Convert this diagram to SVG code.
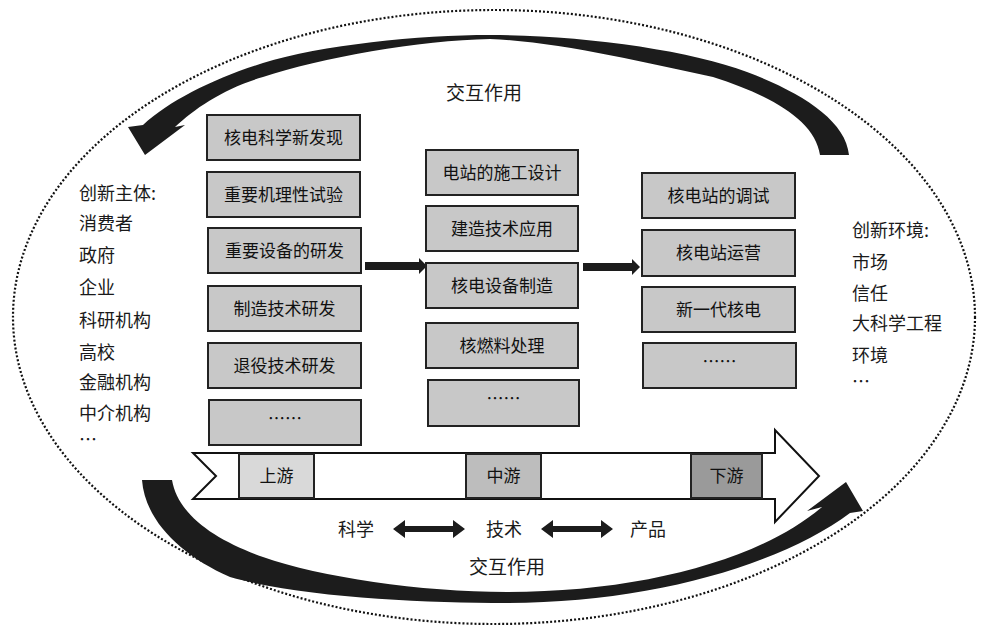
<svg xmlns="http://www.w3.org/2000/svg" width="981" height="627" viewBox="0 0 981 627">
<style>
.t{font-family:"Noto Sans CJK SC","Noto Sans",sans-serif;font-size:18px;fill:#1a1a1a}
.bt{font-family:"Noto Sans CJK SC","Noto Sans",sans-serif;font-size:17px;fill:#111;text-anchor:middle}
.lb{font-family:"Noto Sans CJK SC","Noto Sans",sans-serif;font-size:19px;fill:#1a1a1a;text-anchor:middle}
.box{fill:#c8c8c8;stroke:#222;stroke-width:2}
.ck{fill:#1c1c1c}
</style>
<rect width="981" height="627" fill="#fff"/>
<ellipse cx="494" cy="317" rx="481" ry="307" fill="none" stroke="#111" stroke-width="2.2" stroke-dasharray="2 2"/>
<g id="connectors">
<path class="ck" d="M849 155 C846 120 800 92 747 72 C690 50 580 35 490 35 C420 35 320 45 263 63 C215 78 170 100 143 125 L128 127 L145 155 L185 125 L175 127 C195 108 225 88 263 77 C320 58 420 40 490 39 C560 42 640 62 713 77 C770 95 815 120 820 155 Z"/>
<path class="ck" d="M142 480 C145 520 180 555 230 577 C300 597 420 603 507 603 C650 603 780 565 850 513 L863 511 L846 482 L807 511 L822 507 C760 560 640 592 507 592 C420 592 320 577 263 557 C215 540 178 515 172 480 Z"/>
<path fill="#fff" stroke="#111" stroke-width="2" d="M193 453 L775 453 L775 430 L819 476 L775 522 L775 499 L193 499 L216 476 Z"/>
<path class="ck" d="M365 262 L419 262 L419 258 L427 266 L419 274 L419 270 L365 270 Z"/>
<path class="ck" d="M583 263 L632 263 L632 259 L640 267 L632 275 L632 271 L583 271 Z"/>
<path class="ck" d="M393 529 L405 520 L405 526 L453 526 L453 520 L465 529 L453 538 L453 532 L405 532 L405 538 Z"/>
<path class="ck" d="M541 529 L553 520 L553 526 L601 526 L601 520 L613 529 L601 538 L601 532 L553 532 L553 538 Z"/>
</g>
<g id="stages">
<rect x="239" y="454" width="75" height="44" fill="#d9d9d9" stroke="#222" stroke-width="2"/>
<text class="bt" x="276.5" y="482">上游</text>
<rect x="466" y="454" width="75" height="44" fill="#bdbdbd" stroke="#222" stroke-width="2"/>
<text class="bt" x="503.5" y="482">中游</text>
<rect x="691" y="454" width="71" height="44" fill="#9a9a9a" stroke="#222" stroke-width="2"/>
<text class="bt" x="726.5" y="482">下游</text>
</g>
<g id="col1">
<rect class="box" x="207" y="115" width="153" height="45"/><text class="bt" x="283.5" y="144">核电科学新发现</text>
<rect class="box" x="207" y="172" width="153" height="45"/><text class="bt" x="283.5" y="201">重要机理性试验</text>
<rect class="box" x="208" y="228" width="153" height="45"/><text class="bt" x="284.5" y="257">重要设备的研发</text>
<rect class="box" x="208" y="286" width="153" height="45"/><text class="bt" x="284.5" y="315">制造技术研发</text>
<rect class="box" x="208" y="343" width="153" height="45"/><text class="bt" x="284.5" y="372">退役技术研发</text>
<rect class="box" x="209" y="400" width="152" height="45"/><text class="bt" x="285" y="425">……</text>
</g>
<g id="col2">
<rect class="box" x="426" y="150" width="152" height="45"/><text class="bt" x="502" y="179">电站的施工设计</text>
<rect class="box" x="426" y="206" width="152" height="45"/><text class="bt" x="502" y="235">建造技术应用</text>
<rect class="box" x="426" y="263" width="152" height="45"/><text class="bt" x="502" y="292">核电设备制造</text>
<rect class="box" x="426" y="323" width="152" height="45"/><text class="bt" x="502" y="352">核燃料处理</text>
<rect class="box" x="428" y="380" width="151" height="46"/><text class="bt" x="503.5" y="405">……</text>
</g>
<g id="col3">
<rect class="box" x="642" y="173" width="153" height="45"/><text class="bt" x="718.5" y="202">核电站的调试</text>
<rect class="box" x="642" y="230" width="153" height="46"/><text class="bt" x="718.5" y="259">核电站运营</text>
<rect class="box" x="642" y="287" width="153" height="45"/><text class="bt" x="718.5" y="316">新一代核电</text>
<rect class="box" x="643" y="343" width="153" height="45"/><text class="bt" x="719.5" y="368">……</text>
</g>
<g id="subjects">
<text class="t" x="79" y="200">创新主体:</text>
<text class="t" x="79" y="230">消费者</text>
<text class="t" x="79" y="262">政府</text>
<text class="t" x="79" y="294">企业</text>
<text class="t" x="79" y="327">科研机构</text>
<text class="t" x="79" y="359">高校</text>
<text class="t" x="79" y="389">金融机构</text>
<text class="t" x="79" y="420">中介机构</text>
<text class="t" x="79" y="446">…</text>
</g>
<g id="environment">
<text class="t" x="852" y="237">创新环境:</text>
<text class="t" x="852" y="269">市场</text>
<text class="t" x="852" y="300">信任</text>
<text class="t" x="852" y="330">大科学工程</text>
<text class="t" x="852" y="362">环境</text>
<text class="t" x="852" y="388">…</text>
</g>
<g id="labels">
<text class="lb" x="484" y="100">交互作用</text>
<text class="lb" x="507" y="574">交互作用</text>
<text class="t" x="338" y="536">科学</text>
<text class="t" x="486" y="536">技术</text>
<text class="t" x="630" y="536">产品</text>
</g>
</svg>
